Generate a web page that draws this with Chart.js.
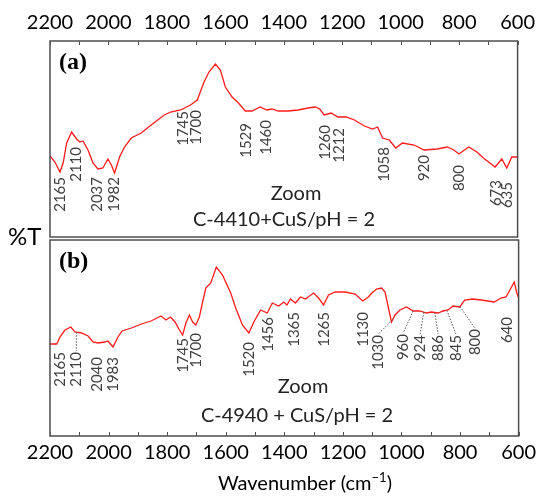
<!DOCTYPE html>
<html lang="en">
<head>
<meta charset="UTF-8">
<title>FTIR zoom</title>
<script src="https://cdn.jsdelivr.net/npm/chart.js"></script>
<style>
    body { margin: 0; background: #fff; }
    #wrap { position: relative; width: 541px; height: 496px; }
    #wrap canvas { position: absolute; left: 0; }
    #chartA { top: 0; }
    #chartB { top: 238px; }
    #ylab { position: absolute; left: 8px; top: 224px; font: 24px/24px Lato, sans-serif; color: #000; }
</style>
</head>
<body>
<div id="wrap">
    <canvas id="chartA" width="541" height="238"></canvas>
    <canvas id="chartB" width="541" height="258"></canvas>
    <div id="ylab">%T</div>
</div>
<script>
// tick labels of the wavenumber axis
const xTicks = [2200, 2000, 1800, 1600, 1400, 1200, 1000, 800, 600];

// (a) C-4410 + CuS / pH = 2 : wavenumber (cm-1) and %T (arbitrary units)
const waveA = [2200, 2183, 2166, 2155, 2143, 2126, 2109, 2098, 2087, 2070, 2053, 2036, 2019, 2002, 1990, 1979,
    1962, 1945, 1922, 1888, 1854, 1809, 1787, 1753, 1719, 1696, 1673, 1656, 1634, 1617, 1600, 1577, 1555, 1532,
    1509, 1481, 1458, 1441, 1419, 1385, 1351, 1317, 1292, 1277, 1262, 1238, 1215, 1187, 1158, 1147, 1124, 1096,
    1079, 1062, 1039, 1017, 994, 954, 920, 875, 841, 818, 801, 767, 739, 717, 677, 654, 637, 620, 603, 600];
const transA = [81, 75, 65, 74, 94, 105, 98, 95, 96, 87, 74, 68, 69, 78, 72, 64,
    80, 90, 99, 104, 112, 122, 125, 127, 132, 137, 155, 165, 173, 167, 150, 140, 134, 126,
    126, 130, 127, 128, 126, 126, 127, 129, 130, 128, 122, 124, 120, 120, 117, 115, 111, 108,
    110, 99, 97, 89, 94, 92, 87, 88, 90, 87, 83, 90, 85, 79, 70, 78, 69, 80, 80, 80];

// (b) C-4940 + CuS / pH = 2
const waveB = [2200, 2177, 2166, 2149, 2129, 2115, 2092, 2070, 2053, 2036, 2013, 2002, 1985, 1968, 1954, 1922,
    1888, 1855, 1821, 1804, 1789, 1773, 1758, 1747, 1736, 1724, 1713, 1702, 1690, 1679, 1668, 1651, 1632, 1611,
    1583, 1566, 1543, 1521, 1504, 1481, 1458, 1441, 1419, 1402, 1391, 1379, 1362, 1345, 1328, 1300, 1283, 1266,
    1249, 1226, 1192, 1158, 1132, 1113, 1101, 1085, 1068, 1056, 1045, 1034, 1022, 1005, 983, 960, 937, 915, 898,
    875, 858, 841, 824, 801, 784, 756, 728, 683, 660, 643, 626, 615, 606, 600];
const transB = [92, 92, 99, 106, 109, 104, 103, 100, 94, 93, 94, 95, 89, 99, 105, 108,
    112, 115, 120, 116, 119, 114, 106, 101, 113, 121, 114, 111, 119, 134, 148, 153, 169, 161,
    143, 128, 111, 103, 114, 126, 123, 133, 130, 134, 131, 137, 133, 139, 137, 143, 138, 131,
    141, 144, 144, 142, 135, 139, 143, 147, 148, 144, 129, 114, 121, 126, 129, 125, 125, 123, 124,
    123, 125, 126, 130, 129, 136, 137, 136, 134, 138, 139, 148, 154, 143, 138];

// band labels
const peaksA = [2165, 2110, 2037, 1982, 1745, 1700, 1529, 1460, 1260, 1212, 1058, 920, 800, 673, 635];
const peaksB = [2165, 2110, 2040, 1983, 1745, 1700, 1520, 1456, 1365, 1265, 1130, 1030, 960, 924, 886, 845, 800, 640];

// where the band labels sit (wavenumber of the text, %T of its top end) and which get a dotted leader
const labelTopA = [60, 90, 60, 60, 126, 127, 114, 117, 112, 109, 90, 82, 72, 57, 55];
const labelXB = [2165, 2110, 2040, 1983, 1745, 1700, 1520, 1456, 1365, 1265, 1130, 1079, 994, 936, 875, 814, 750, 640];
const labelTopB = [84, 84, 79, 79, 98, 103, 94, 119, 124, 124, 124, 101, 102, 101, 101, 101, 107, 119];
const leaderB = [false, true, false, false, false, false, false, false, false, false, false, true, true, true, true, true, true, false];

const FONT = "Lato, 'Open Sans', sans-serif";

function valueAt(wave, trans, w) {
    for (let i = 0; i < wave.length - 1; i++) {
        if (wave[i] >= w && w >= wave[i + 1]) {
            const t = (wave[i] - w) / (wave[i] - wave[i + 1]);
            return trans[i] + t * (trans[i + 1] - trans[i]);
        }
    }
    return trans[trans.length - 1];
}

// box round the plot area plus inward ticks every 100 cm-1
function framePlugin(side) {
    return {
        id: 'frame',
        afterDraw(chart) {
            const { ctx, chartArea: a, scales: { x } } = chart;
            ctx.save();
            ctx.strokeStyle = '#4d4d4d';
            ctx.lineWidth = 1.5;
            ctx.strokeRect(a.left, a.top, a.right - a.left, a.bottom - a.top);
            ctx.lineWidth = 1;
            ctx.strokeStyle = '#555';
            for (let w = 600; w <= 2200; w += 100) {
                const px = Math.round(x.getPixelForValue(w)) + 0.5;
                ctx.beginPath();
                if (side === 'top') { ctx.moveTo(px, a.top); ctx.lineTo(px, a.top + 4); }
                else { ctx.moveTo(px, a.bottom); ctx.lineTo(px, a.bottom - 4); }
                ctx.stroke();
            }
            ctx.restore();
        }
    };
}

function peaksPlugin(wave, trans, peaks, labelX, labelTop, leader) {
    return {
        id: 'peaks',
        afterDatasetsDraw(chart) {
            const { ctx, scales: { x, y } } = chart;
            ctx.save();
            peaks.forEach((p, i) => {
                const px = x.getPixelForValue(labelX[i]);
                const py = y.getPixelForValue(labelTop[i]);
                if (leader[i]) {
                    ctx.save();
                    ctx.strokeStyle = '#555';
                    ctx.lineWidth = 1;
                    ctx.setLineDash([1.5, 1.5]);
                    ctx.beginPath();
                    ctx.moveTo(x.getPixelForValue(p), y.getPixelForValue(valueAt(wave, trans, p)));
                    ctx.lineTo(px, py - 1);
                    ctx.stroke();
                    ctx.restore();
                }
                ctx.save();
                ctx.translate(px, py);
                ctx.rotate(-Math.PI / 2);
                ctx.font = '15px ' + FONT;
                ctx.fillStyle = '#404040';
                ctx.textAlign = 'right';
                ctx.textBaseline = 'middle';
                ctx.fillText(String(p), 0, 0);
                ctx.restore();
            });
            ctx.restore();
        }
    };
}

function textPlugin(tag, tagY, zoomX, zoomY, sub, subX, subY, withTitle) {
    return {
        id: 'texts',
        afterDraw(chart) {
            const ctx = chart.ctx;
            ctx.save();
            ctx.fillStyle = '#000';
            ctx.textBaseline = 'alphabetic';
            ctx.textAlign = 'left';
            ctx.font = "bold 24px 'Liberation Serif', serif";
            ctx.fillText(tag, 59, tagY);
            ctx.textAlign = 'center';
            ctx.fillStyle = '#222';
            ctx.font = '20px ' + FONT;
            ctx.fillText('Zoom', zoomX, zoomY);
            ctx.fillText(sub, subX, subY);
            if (withTitle) {
                const big = '20px ' + FONT, small = '13px ' + FONT;
                ctx.font = big;
                const w1 = ctx.measureText('Wavenumber (cm').width;
                const w3 = ctx.measureText(')').width;
                ctx.font = small;
                const w2 = ctx.measureText('\u22121').width;
                let cx = 305 - (w1 + w2 + w3) / 2;
                const base = 252;
                ctx.textAlign = 'left';
                ctx.fillStyle = '#000';
                ctx.font = big;
                ctx.fillText('Wavenumber (cm', cx, base);
                cx += w1;
                ctx.font = small;
                ctx.fillText('\u22121', cx, base - 8);
                cx += w2;
                ctx.font = big;
                ctx.fillText(')', cx, base);
            }
            ctx.restore();
        }
    };
}

function xScale(position, height, padding) {
    return {
        type: 'linear', position: position, reverse: true, min: 600, max: 2200,
        afterBuildTicks: s => { s.ticks = xTicks.map(v => ({ value: v })); },
        afterFit: s => { s.height = height; },
        grid: { display: false, drawTicks: false },
        border: { display: false },
        ticks: {
            padding: padding, color: '#000', maxRotation: 0, autoSkip: false,
            font: { family: FONT, size: 20 },
            callback: v => String(v)
        }
    };
}

function spectrum(wave, trans) {
    return {
        data: wave.map((w, i) => ({ x: w, y: trans[i] })),
        borderColor: '#ff1a1a',
        borderWidth: 1.3,
        pointRadius: 0,
        tension: 0
    };
}

new Chart(document.getElementById('chartA'), {
    type: 'line',
    data: { datasets: [spectrum(waveA, transA)] },
    options: {
        responsive: false, animation: false, devicePixelRatio: 1,
        layout: { padding: { left: 50, right: 20, top: 0, bottom: 1 } },
        plugins: { legend: { display: false }, tooltip: { enabled: false } },
        scales: { x: xScale('top', 41, 6), y: { display: false, min: 0, max: 196 } }
    },
    plugins: [
        framePlugin('top'),
        peaksPlugin(waveA, transA, peaksA, peaksA, labelTopA, peaksA.map(() => false)),
        textPlugin('(a)', 69, 296, 200, 'C-4410+CuS/pH = 2', 284, 226, false)
    ]
});

new Chart(document.getElementById('chartB'), {
    type: 'line',
    data: { datasets: [spectrum(waveB, transB)] },
    options: {
        responsive: false, animation: false, devicePixelRatio: 1,
        layout: { padding: { left: 50, right: 20, top: 2, bottom: 0 } },
        plugins: { legend: { display: false }, tooltip: { enabled: false } },
        scales: { x: xScale('bottom', 60, 5), y: { display: false, min: 0, max: 196 } }
    },
    plugins: [
        framePlugin('bottom'),
        peaksPlugin(waveB, transB, peaksB, labelXB, labelTopB, leaderB),
        textPlugin('(b)', 30, 303, 155, 'C-4940 + CuS/pH = 2', 297, 184, true)
    ]
});
</script>
</body>
</html>
